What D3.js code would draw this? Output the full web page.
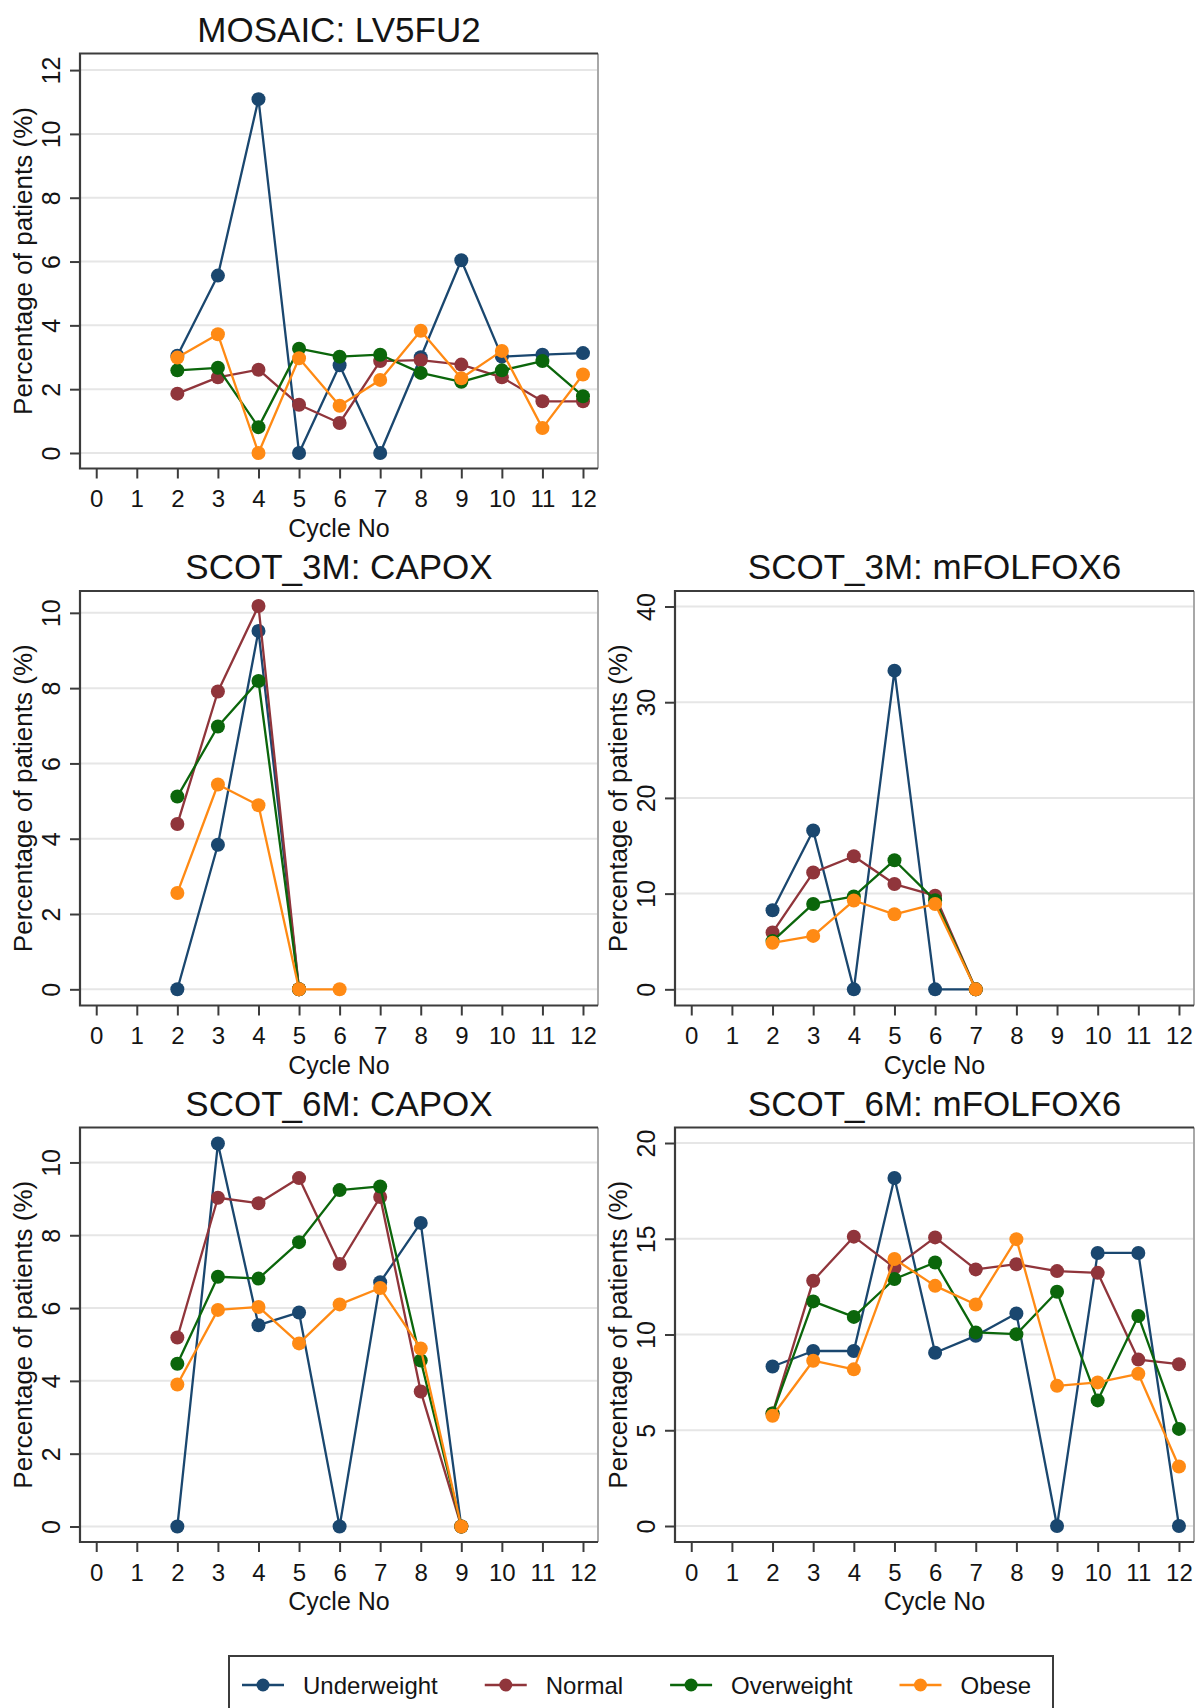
<!DOCTYPE html>
<html>
<head>
<meta charset="utf-8">
<script src="https://cdn.jsdelivr.net/npm/d3@7"></script>
<style>
  html, body { margin: 0; padding: 0; background: #fff; }
  svg { display: block; font-family: "Liberation Sans", Arial, sans-serif; }
</style>
</head>
<body>
<svg id="chart" width="1196" height="1708"></svg>
<script>
// ---------------- DATA ----------------
const groups = ["Underweight", "Normal", "Overweight", "Obese"];
const groupColors = ["#1a476f", "#90353b", "#0b660b", "#ff8a14"];
const cycleTicks = [0, 1, 2, 3, 4, 5, 6, 7, 8, 9, 10, 11, 12];

// MOSAIC: LV5FU2
const mosaicCycles = [2, 3, 4, 5, 6, 7, 8, 9, 10, 11, 12];
const mosaicUnderweight = [3.05, 5.56, 11.09, 0, 2.75, 0, 3.0, 6.04, 3.02, 3.08, 3.13];
const mosaicNormal      = [1.86, 2.37, 2.61, 1.51, 0.94, 2.88, 2.91, 2.77, 2.37, 1.62, 1.62];
const mosaicOverweight  = [2.59, 2.67, 0.81, 3.27, 3.02, 3.08, 2.51, 2.23, 2.59, 2.88, 1.78];
const mosaicObese       = [2.99, 3.72, 0, 2.97, 1.48, 2.29, 3.83, 2.34, 3.20, 0.78, 2.46];
const mosaicYTicks = [0, 2, 4, 6, 8, 10, 12];

// SCOT_3M: CAPOX
const scot3CapoxCycles = [2, 3, 4, 5];
const scot3CapoxObeseCycles = [2, 3, 4, 5, 6];
const scot3CapoxUnderweight = [0, 3.84, 9.52, 0];
const scot3CapoxNormal      = [4.39, 7.91, 10.18, 0];
const scot3CapoxOverweight  = [5.12, 6.98, 8.19, 0];
const scot3CapoxObese       = [2.56, 5.44, 4.89, 0, 0];
const scot3CapoxYTicks = [0, 2, 4, 6, 8, 10];

// SCOT_3M: mFOLFOX6
const scot3FolfoxCycles = [2, 3, 4, 5, 6, 7];
const scot3FolfoxUnderweight = [8.27, 16.6, 0, 33.3, 0, 0];
const scot3FolfoxNormal      = [5.94, 12.2, 13.9, 11.0, 9.78, 0];
const scot3FolfoxOverweight  = [5.04, 8.92, 9.71, 13.49, 9.3, 0];
const scot3FolfoxObese       = [4.86, 5.58, 9.28, 7.84, 8.92, 0];
const scot3FolfoxYTicks = [0, 10, 20, 30, 40];

// SCOT_6M: CAPOX
const scot6CapoxCycles = [2, 3, 4, 5, 6, 7, 8, 9];
const scot6CapoxUnderweight = [0, 10.52, 5.53, 5.88, 0, 6.71, 8.34, 0];
const scot6CapoxNormal      = [5.19, 9.03, 8.88, 9.57, 7.21, 9.05, 3.71, 0];
const scot6CapoxOverweight  = [4.47, 6.86, 6.81, 7.81, 9.24, 9.34, 4.56, 0];
const scot6CapoxObese       = [3.90, 5.95, 6.03, 5.03, 6.10, 6.55, 4.89, 0];
const scot6CapoxYTicks = [0, 2, 4, 6, 8, 10];

// SCOT_6M: mFOLFOX6
const scot6FolfoxCycles = [2, 3, 4, 5, 6, 7, 8, 9, 10, 11, 12];
const scot6FolfoxUnderweight = [8.33, 9.14, 9.14, 18.17, 9.05, 9.93, 11.1, 0, 14.26, 14.26, 0];
const scot6FolfoxNormal      = [5.88, 12.81, 15.11, 13.49, 15.07, 13.4, 13.67, 13.31, 13.22, 8.69, 8.45];
const scot6FolfoxOverweight  = [5.88, 11.73, 10.92, 12.9, 13.76, 10.11, 10.02, 12.23, 6.56, 10.97, 5.07];
const scot6FolfoxObese       = [5.76, 8.63, 8.18, 13.94, 12.54, 11.57, 14.98, 7.32, 7.5, 7.95, 3.11];
const scot6FolfoxYTicks = [0, 5, 10, 15, 20];

// ---------------- PANELS (data + scale settings) ----------------
const panels = [
  { title: "MOSAIC: LV5FU2", col: 0, row: 0, yTicks: mosaicYTicks, yDomain: [-0.486, 12.52],
    series: [[mosaicCycles, mosaicUnderweight], [mosaicCycles, mosaicNormal],
             [mosaicCycles, mosaicOverweight], [mosaicCycles, mosaicObese]] },
  { title: "SCOT_3M: CAPOX", col: 0, row: 1, yTicks: scot3CapoxYTicks, yDomain: [-0.43, 10.58],
    series: [[scot3CapoxCycles, scot3CapoxUnderweight], [scot3CapoxCycles, scot3CapoxNormal],
             [scot3CapoxCycles, scot3CapoxOverweight], [scot3CapoxObeseCycles, scot3CapoxObese]] },
  { title: "SCOT_3M: mFOLFOX6", col: 1, row: 1, yTicks: scot3FolfoxYTicks, yDomain: [-1.69, 41.62],
    series: [[scot3FolfoxCycles, scot3FolfoxUnderweight], [scot3FolfoxCycles, scot3FolfoxNormal],
             [scot3FolfoxCycles, scot3FolfoxOverweight], [scot3FolfoxCycles, scot3FolfoxObese]] },
  { title: "SCOT_6M: CAPOX", col: 0, row: 2, yTicks: scot6CapoxYTicks, yDomain: [-0.426, 10.96],
    series: [[scot6CapoxCycles, scot6CapoxUnderweight], [scot6CapoxCycles, scot6CapoxNormal],
             [scot6CapoxCycles, scot6CapoxOverweight], [scot6CapoxCycles, scot6CapoxObese]] },
  { title: "SCOT_6M: mFOLFOX6", col: 1, row: 2, yTicks: scot6FolfoxYTicks, yDomain: [-0.835, 20.81],
    series: [[scot6FolfoxCycles, scot6FolfoxUnderweight], [scot6FolfoxCycles, scot6FolfoxNormal],
             [scot6FolfoxCycles, scot6FolfoxOverweight], [scot6FolfoxCycles, scot6FolfoxObese]] }
];

// ---------------- LAYOUT ----------------
const colBox = [[80, 598], [675, 1194]];
const rowBox = [[53.5, 468.5], [591, 1005.5], [1127.5, 1542]];
const xDomain = [-0.4, 12.37];

const svg = d3.select("#chart");
const textColor = "#141414";
const frameColor = "#3c3c3c";
const fontStack = "'Liberation Sans', Arial, sans-serif";

panels.forEach(p => {
  const [x0, x1] = colBox[p.col];
  const [y0, y1] = rowBox[p.row];
  const x = d3.scaleLinear().domain(xDomain).range([x0, x1]);
  const y = d3.scaleLinear().domain(p.yDomain).range([y1, y0]);
  const g = svg.append("g");

  // gridlines
  g.append("g").selectAll("line").data(p.yTicks).join("line")
    .attr("x1", x0).attr("x2", x1)
    .attr("y1", d => y(d)).attr("y2", d => y(d))
    .attr("stroke", "#e6e6e6").attr("stroke-width", 2);

  // series
  const line = d3.line().x(d => x(d[0])).y(d => y(d[1]));
  p.series.forEach((s, i) => {
    const pts = s[0].map((c, k) => [c, s[1][k]]);
    g.append("path").datum(pts)
      .attr("d", line).attr("fill", "none")
      .attr("stroke", groupColors[i]).attr("stroke-width", 2.3)
      .attr("stroke-linejoin", "round");
    g.append("g").selectAll("circle").data(pts).join("circle")
      .attr("cx", d => x(d[0])).attr("cy", d => y(d[1])).attr("r", 7)
      .attr("fill", groupColors[i]);
  });

  // frame
  g.append("line").attr("x1", x1).attr("x2", x1).attr("y1", y0).attr("y2", y1)
    .attr("stroke", "#a8a8a8").attr("stroke-width", 2);
  g.append("path")
    .attr("d", `M${x1},${y0}H${x0}V${y1}H${x1}`)
    .attr("fill", "none").attr("stroke", frameColor).attr("stroke-width", 2.2);

  // x axis
  const xAxis = g.append("g").attr("transform", `translate(0,${y1})`)
    .call(d3.axisBottom(x).tickValues(cycleTicks).tickSize(10).tickFormat(d3.format("d")));
  xAxis.select(".domain").remove();
  xAxis.selectAll(".tick line").attr("stroke", frameColor).attr("stroke-width", 2);
  xAxis.selectAll(".tick text")
    .attr("y", 30).attr("dy", "0.36em")
    .attr("fill", textColor).style("font-size", "24px")
    .style("font-family", fontStack);

  // y axis
  const yAxis = g.append("g").attr("transform", `translate(${x0},0)`)
    .call(d3.axisLeft(y).tickValues(p.yTicks).tickSize(10).tickFormat(d3.format("d")));
  yAxis.select(".domain").remove();
  yAxis.selectAll(".tick line").attr("stroke", frameColor).attr("stroke-width", 2);
  yAxis.selectAll(".tick text")
    .attr("x", 0).attr("y", 0).attr("dy", "0.36em")
    .attr("text-anchor", "middle")
    .attr("transform", "translate(-29,0) rotate(-90)")
    .attr("fill", textColor).style("font-size", "25px")
    .style("font-family", fontStack);

  // axis titles
  g.append("text")
    .attr("x", (x0 + x1) / 2).attr("y", y1 + 59).attr("dy", "0.36em")
    .attr("text-anchor", "middle").attr("fill", textColor)
    .style("font-size", "25px").text("Cycle No");
  g.append("text")
    .attr("transform", `translate(${x0 - 57},${(y0 + y1) / 2}) rotate(-90)`)
    .attr("dy", "0.36em").attr("text-anchor", "middle").attr("fill", textColor)
    .style("font-size", "26px").text("Percentage of patients (%)");

  // title
  g.append("text")
    .attr("x", (x0 + x1) / 2).attr("y", y0 - 12)
    .attr("text-anchor", "middle").attr("fill", textColor)
    .style("font-size", "35px").text(p.title);
});

// ---------------- LEGEND ----------------
const legend = svg.append("g");
legend.append("rect")
  .attr("x", 229).attr("y", 1656).attr("width", 824).attr("height", 80)
  .attr("fill", "#fff").attr("stroke", frameColor).attr("stroke-width", 2);
let lx = 242;
const ly = 1685;
groups.forEach((name, i) => {
  legend.append("line")
    .attr("x1", lx).attr("x2", lx + 42).attr("y1", ly).attr("y2", ly)
    .attr("stroke", groupColors[i]).attr("stroke-width", 2.5);
  legend.append("circle").attr("cx", lx + 21).attr("cy", ly).attr("r", 6.5)
    .attr("fill", groupColors[i]);
  const t = legend.append("text")
    .attr("x", lx + 61).attr("y", ly).attr("dy", "0.36em")
    .attr("fill", textColor).style("font-size", "24px").text(name);
  lx = lx + 61 + t.node().getComputedTextLength() + 47;
});
</script>
</body>
</html>
